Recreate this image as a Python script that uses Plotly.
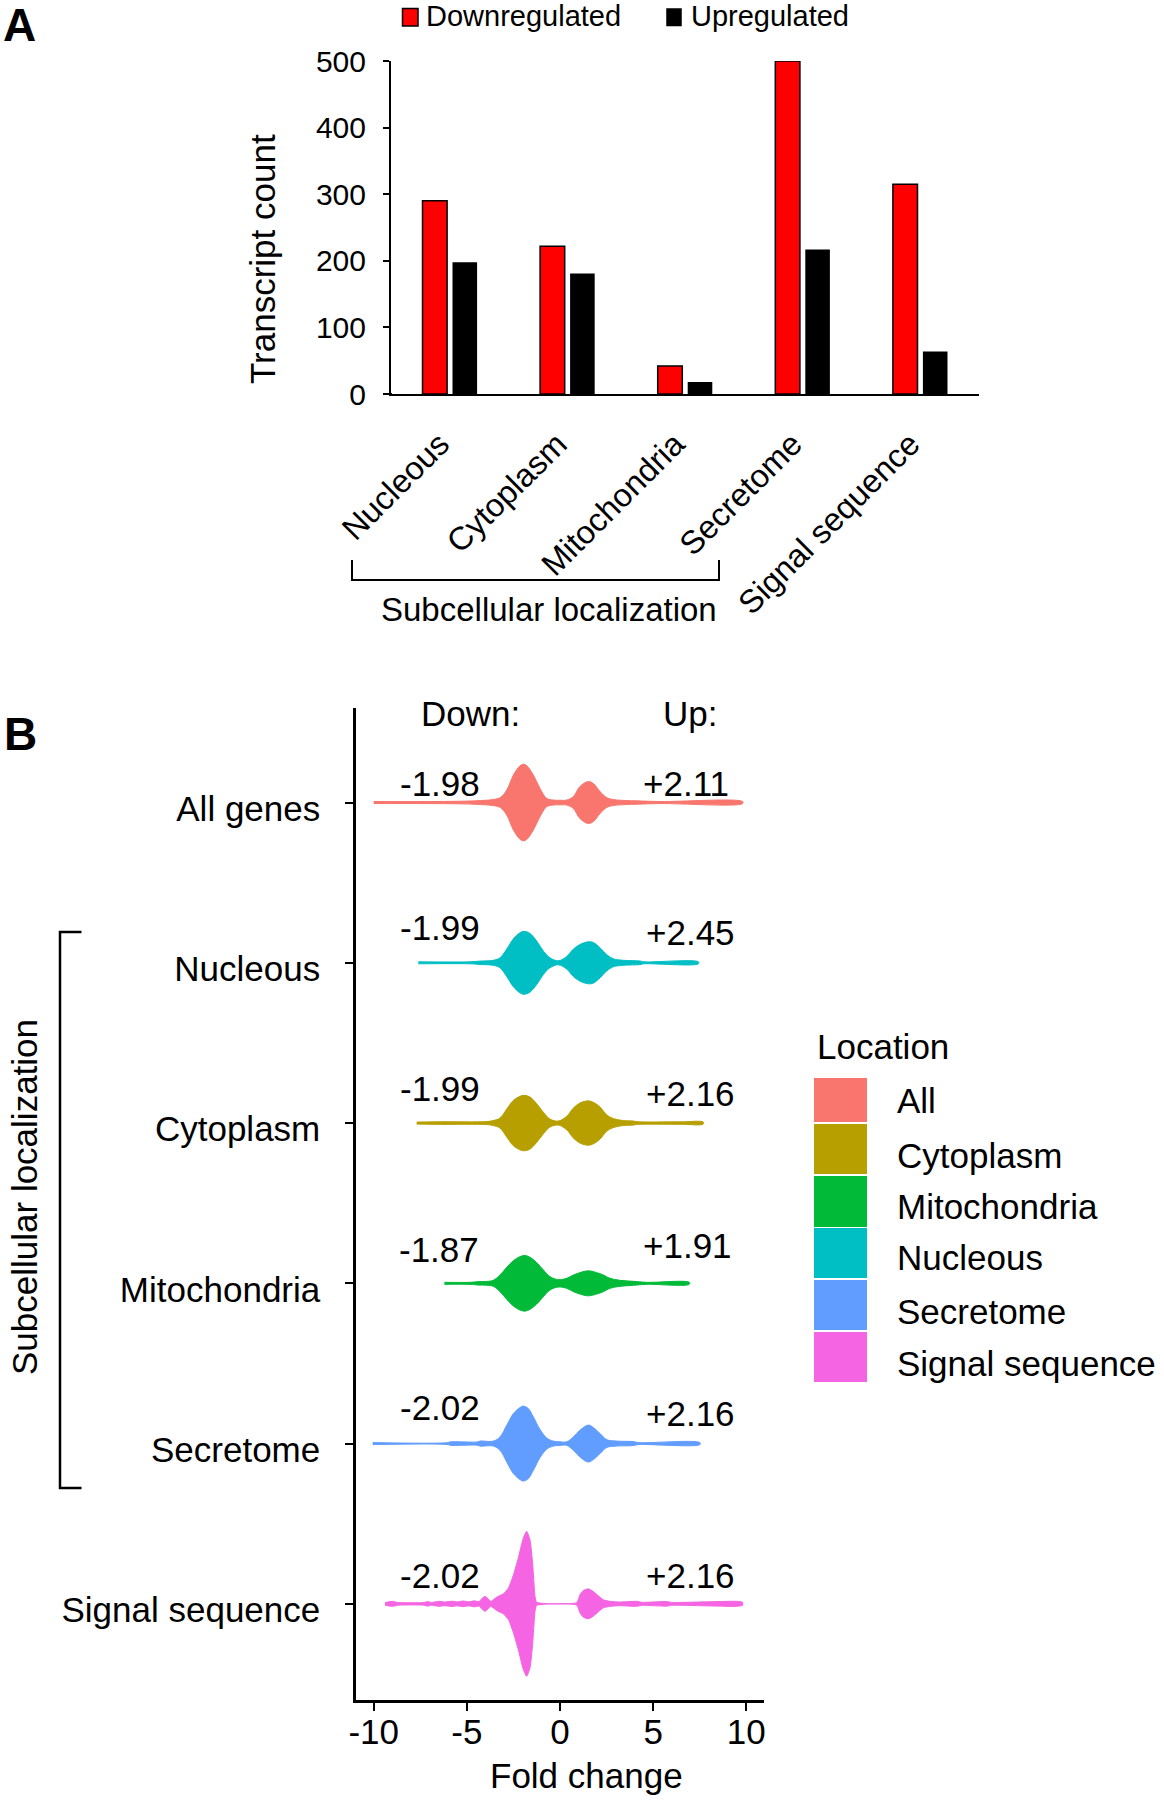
import plotly.graph_objects as go

# ---------------- Panel A data ----------------
CATEGORIES_A = ["Nucleous", "Cytoplasm", "Mitochondria", "Secretome", "Signal sequence"]
DOWN_COUNTS = [290, 222, 42, 500, 315]
UP_COUNTS = [198, 181, 18, 217, 64]
Y_TICKS_A = [0, 100, 200, 300, 400, 500]

# ---------------- Panel B data ----------------
ROW_LABELS_B = ["All genes", "Nucleous", "Cytoplasm", "Mitochondria", "Secretome", "Signal sequence"]
ROW_LOCATION = ["All", "Nucleous", "Cytoplasm", "Mitochondria", "Secretome", "Signal sequence"]
LEGEND_NAMES = ["All", "Cytoplasm", "Mitochondria", "Nucleous", "Secretome", "Signal sequence"]
DOWN_MEDIANS = ["-1.98", "-1.99", "-1.99", "-1.87", "-2.02", "-2.02"]
UP_MEDIANS = ["+2.11", "+2.45", "+2.16", "+1.91", "+2.16", "+2.16"]
X_TICKS_B = [-10, -5, 0, 5, 10]

# violin density profiles (fold change, half-width of density)
ALL_X = [-10.0, -7.2, -5.4, -4.5, -3.6, -3.2, -2.86, -2.5, -2.15, -1.97, -1.79, -1.43, -1.07, -0.72,
         -0.36, 0.0, 0.36, 0.72, 1.07, 1.52, 1.79, 2.15, 2.5, 2.86, 3.58, 4.12, 5.4, 9.8]
ALL_D = [1.0, 1.0, 1.3, 1.8, 3.0, 5.0, 12.5, 27.5, 36.7, 38.3, 37.0, 27.5, 14.0, 4.2,
         2.5, 2.3, 2.5, 6.0, 16.0, 21.0, 19.0, 11.0, 5.0, 3.0, 2.0, 1.7, 1.0, 1.0]

NUC_X = [-7.6, -4.83, -4.3, -3.58, -3.22, -2.86, -2.5, -2.15, -1.93, -1.61, -1.25, -0.89, -0.54,
         -0.09, 0.36, 0.72, 1.07, 1.52, 1.79, 2.15, 2.5, 2.86, 3.4, 4.29, 4.5, 7.43]
NUC_D = [1.0, 1.0, 1.7, 2.5, 5.0, 13.7, 24.0, 30.0, 31.5, 29.3, 21.7, 11.7, 5.0,
         2.0, 6.3, 13.7, 18.3, 21.0, 20.3, 15.0, 8.3, 4.0, 2.5, 1.8, 1.0, 1.0]

CYT_X = [-7.69, -6.4, -3.94, -3.58, -3.22, -2.86, -2.5, -2.15, -1.93, -1.61, -1.25, -0.89, -0.54,
         -0.09, 0.36, 0.72, 1.07, 1.52, 1.79, 2.15, 2.5, 2.86, 3.4, 3.94, 4.2, 6.44, 7.69]
CYT_D = [1.0, 1.3, 1.5, 2.5, 5.0, 14.0, 22.7, 26.7, 27.7, 26.0, 19.3, 10.7, 4.0,
         2.0, 6.7, 15.0, 20.0, 22.2, 20.7, 16.0, 8.3, 4.5, 2.5, 2.0, 1.3, 1.2, 1.0]

MIT_X = [-6.2, -4.83, -4.4, -3.94, -3.58, -3.22, -2.86, -2.5, -2.15, -1.88, -1.61, -1.25, -0.89,
         -0.54, -0.09, 0.36, 0.72, 1.07, 1.52, 1.97, 2.33, 2.68, 3.22, 3.94, 4.65, 6.94]
MIT_D = [1.0, 1.0, 1.7, 1.9, 3.0, 8.3, 16.0, 22.7, 26.7, 27.8, 26.0, 20.7, 13.3,
         6.7, 3.7, 5.0, 8.3, 10.7, 12.5, 10.7, 8.3, 5.0, 3.0, 2.0, 1.0, 1.0]

SEC_X = [-10.05, -6.0, -5.9, -4.4, -4.3, -3.58, -3.22, -2.86, -2.5, -2.15, -1.97, -1.70, -1.43,
         -1.07, -0.72, -0.36, 0.0, 0.36, 0.72, 1.07, 1.52, 1.79, 2.15, 2.5, 3.04, 3.94, 4.2, 7.51]
SEC_D = [1.0, 1.0, 1.7, 1.7, 2.5, 2.5, 6.7, 18.3, 30.0, 36.0, 37.5, 35.0, 26.7,
         14.0, 5.7, 2.5, 1.8, 1.8, 6.7, 13.3, 18.5, 16.0, 10.0, 4.0, 2.5, 2.0, 1.0, 1.0]

SIG_X = [-9.39, -9.0, -8.7, -7.3, -7.1, -6.9, -6.5, -6.2, -5.8, -5.5, -5.2, -4.9, -4.6, -4.35,
         -4.18, -4.03, -3.88, -3.72, -3.4, -3.04, -2.77, -2.5, -2.24, -1.97, -1.79, -1.61, -1.47,
         -1.34, -1.25, 0.9, 1.07, 1.25, 1.52, 1.79, 2.06, 2.33, 2.68, 3.2, 4.12, 4.4, 5.73, 6.0,
         9.48, 9.8]
SIG_D = [1.3, 2.5, 1.3, 1.3, 2.3, 1.3, 2.5, 1.8, 2.6, 2.0, 2.8, 2.0, 3.0, 2.2,
         5.5, 7.5, 5.5, 2.5, 6.7, 10.0, 15.7, 29.0, 45.7, 65.7, 72.5, 64.0, 40.7,
         7.3, 1.5, 1.2, 9.0, 13.3, 15.0, 12.3, 8.0, 4.0, 2.5, 1.8, 2.5, 1.5, 2.3, 1.4,
         2.5, 1.5]

PROFILES = {
    "All": (ALL_X, ALL_D),
    "Nucleous": (NUC_X, NUC_D),
    "Cytoplasm": (CYT_X, CYT_D),
    "Mitochondria": (MIT_X, MIT_D),
    "Secretome": (SEC_X, SEC_D),
    "Signal sequence": (SIG_X, SIG_D),
}

# ---------------- styles ----------------
COLORS = {
    "All": "#F8766D",
    "Cytoplasm": "#B79F00",
    "Mitochondria": "#00BA38",
    "Nucleous": "#00BFC4",
    "Secretome": "#619CFF",
    "Signal sequence": "#F564E3",
}
FONT = "Liberation Sans, Arial, sans-serif"
W, H = 1164, 1800
ROW_PX = 160.26  # pixels per category row in panel B (for density scaling)


def px(x):
    return x / W


def py(y):
    return 1 - y / H


fig = go.Figure()

# ---------- Panel A: grouped bars ----------
fig.add_trace(go.Bar(
    x=CATEGORIES_A, y=DOWN_COUNTS, name="Downregulated",
    marker=dict(color="#FF0000", line=dict(color="black", width=1.5)),
    xaxis="x", yaxis="y", showlegend=False,
))
fig.add_trace(go.Bar(
    x=CATEGORIES_A, y=UP_COUNTS, name="Upregulated",
    marker=dict(color="black", line=dict(color="black", width=0)),
    xaxis="x", yaxis="y", showlegend=False,
))

# ---------- Panel B: violins drawn from density profiles ----------
for i, loc in enumerate(ROW_LOCATION):
    xs, ds = PROFILES[loc]
    hw = [d / ROW_PX for d in ds]
    poly_x = list(xs) + list(xs[::-1])
    poly_y = [i - h for h in hw] + [i + h for h in hw[::-1]]
    smooth = 0.5 if loc == "Signal sequence" else 1.0
    fig.add_trace(go.Scatter(
        x=poly_x, y=poly_y, mode="lines", fill="toself",
        fillcolor=COLORS[loc],
        line=dict(color=COLORS[loc], width=1, shape="spline", smoothing=smooth),
        xaxis="x2", yaxis="y2", showlegend=False, name=loc, hoverinfo="skip",
    ))

annotations = []
shapes = []

# panel letters
annotations.append(dict(text="<b>A</b>", x=px(19), y=py(25), xref="paper", yref="paper",
                        showarrow=False, font=dict(size=46, family=FONT, color="black"),
                        xanchor="center", yanchor="middle"))
annotations.append(dict(text="<b>B</b>", x=px(20), y=py(734), xref="paper", yref="paper",
                        showarrow=False, font=dict(size=46, family=FONT, color="black"),
                        xanchor="center", yanchor="middle"))

# panel A legend (manual)
legA = [("Downregulated", "#FF0000", 402.5, 418, 8.5, 26, 424),
        ("Upregulated", "black", 667, 681, 9, 25.5, 689)]
for name, col, x0, x1, y0, y1, tx in legA:
    shapes.append(dict(type="rect", xref="paper", yref="paper",
                       x0=px(x0), x1=px(x1), y0=py(y1), y1=py(y0),
                       fillcolor=col, line=dict(color="black", width=1.5)))
    annotations.append(dict(text=name, x=px(tx), y=py(16.5), xref="paper", yref="paper",
                            showarrow=False, xanchor="left", yanchor="middle",
                            font=dict(size=29, family=FONT, color="black")))

# panel A y title
annotations.append(dict(text="Transcript count", x=px(262), y=py(259), xref="paper", yref="paper",
                        showarrow=False, textangle=-90, xanchor="center", yanchor="middle",
                        font=dict(size=35, family=FONT, color="black")))

# small left extension of the panel A baseline
shapes.append(dict(type="line", xref="paper", yref="paper",
                   x0=px(384), x1=px(392), y0=py(394), y1=py(394),
                   line=dict(color="black", width=2)))

# panel A bracket + label
shapes.append(dict(type="path", xref="paper", yref="paper",
                   path=f"M {px(352)},{py(560)} L {px(352)},{py(580)} L {px(719)},{py(580)} L {px(719)},{py(560)}",
                   line=dict(color="black", width=2)))
annotations.append(dict(text="Subcellular localization", x=px(549), y=py(609), xref="paper", yref="paper",
                        showarrow=False, xanchor="center", yanchor="middle",
                        font=dict(size=33, family=FONT, color="black")))

# panel B headers
annotations.append(dict(text="Down:", x=px(470), y=py(713.5), xref="paper", yref="paper",
                        showarrow=False, xanchor="center", yanchor="middle",
                        font=dict(size=35, family=FONT, color="black")))
annotations.append(dict(text="Up:", x=px(690), y=py(713.5), xref="paper", yref="paper",
                        showarrow=False, xanchor="center", yanchor="middle",
                        font=dict(size=35, family=FONT, color="black")))

# panel B median labels (offsets in row units)
DOWN_LABEL_POS = [(-6.44, -0.121), (-6.44, -0.218), (-6.44, -0.218), (-6.47, -0.213), (-6.44, -0.223), (-6.44, -0.176)]
UP_LABEL_POS = [(6.77, -0.121), (7.0, -0.187), (7.0, -0.187), (6.84, -0.239), (7.0, -0.187), (6.98, -0.176)]
for i in range(len(ROW_LABELS_B)):
    dx, dy = DOWN_LABEL_POS[i]
    ux, uy = UP_LABEL_POS[i]
    annotations.append(dict(text=DOWN_MEDIANS[i], x=dx, y=i + dy, xref="x2", yref="y2",
                            showarrow=False, xanchor="center", yanchor="middle",
                            font=dict(size=35, family=FONT, color="black")))
    annotations.append(dict(text=UP_MEDIANS[i], x=ux, y=i + uy, xref="x2", yref="y2",
                            showarrow=False, xanchor="center", yanchor="middle",
                            font=dict(size=35, family=FONT, color="black")))

# panel B titles
annotations.append(dict(text="Fold change", x=px(586), y=py(1775), xref="paper", yref="paper",
                        showarrow=False, xanchor="center", yanchor="middle",
                        font=dict(size=35, family=FONT, color="black")))
annotations.append(dict(text="Subcellular localization", x=px(24), y=py(1197), xref="paper", yref="paper",
                        showarrow=False, textangle=-90, xanchor="center", yanchor="middle",
                        font=dict(size=35, family=FONT, color="black")))
shapes.append(dict(type="path", xref="paper", yref="paper",
                   path=f"M {px(81.5)},{py(932)} L {px(60)},{py(932)} L {px(60)},{py(1488)} L {px(81.5)},{py(1488)}",
                   line=dict(color="black", width=2.5)))

# panel B legend (manual)
annotations.append(dict(text="Location", x=px(815), y=py(1046), xref="paper", yref="paper",
                        showarrow=False, xanchor="left", yanchor="middle",
                        font=dict(size=35, family=FONT, color="black")))
LEG_BOX_Y = [(1078, 1122), (1124, 1174), (1176, 1227), (1228, 1278), (1280, 1330), (1332, 1382)]
LEG_TEXT_Y = [1100, 1155, 1206, 1257, 1311, 1363]
for name, (y0, y1), ty in zip(LEGEND_NAMES, LEG_BOX_Y, LEG_TEXT_Y):
    shapes.append(dict(type="rect", xref="paper", yref="paper",
                       x0=px(814), x1=px(867), y0=py(y1), y1=py(y0),
                       fillcolor=COLORS[name], line=dict(width=0)))
    annotations.append(dict(text=name, x=px(895), y=py(ty), xref="paper", yref="paper",
                            showarrow=False, xanchor="left", yanchor="middle",
                            font=dict(size=35, family=FONT, color="black")))

fig.update_layout(
    width=W, height=H, autosize=False,
    margin=dict(l=0, r=0, t=0, b=0, autoexpand=False),
    paper_bgcolor="white", plot_bgcolor="white",
    font=dict(family=FONT, color="black"),
    barmode="group", bargap=0.49, bargroupgap=0.18,
    showlegend=False,
    xaxis=dict(domain=[px(391), px(979)], anchor="y", type="category", automargin=False,
               categoryorder="array", categoryarray=CATEGORIES_A,
               range=[-0.5, 4.5], tickangle=-45, ticks="", ticklabelstandoff=16, ticklabelshift=-10,
               tickfont=dict(size=32.5, family=FONT, color="black"),
               showline=True, linecolor="black", linewidth=2, showgrid=False, zeroline=False),
    yaxis=dict(domain=[py(394), py(61)], anchor="x", range=[0, 500], automargin=False,
               tickvals=Y_TICKS_A, ticks="outside", ticklen=6, tickwidth=2, tickcolor="black",
               ticklabelstandoff=11,
               tickfont=dict(size=30, family=FONT, color="black"),
               showline=True, linecolor="black", linewidth=2, showgrid=False, zeroline=False),
    xaxis2=dict(domain=[px(356), px(764)], anchor="y2", range=[-10.95, 10.95], automargin=False,
                tickvals=X_TICKS_B, ticktext=[str(v) for v in X_TICKS_B],
                ticks="outside", ticklen=8, tickwidth=2, tickcolor="black", ticklabelstandoff=-9,
                tickfont=dict(size=35, family=FONT, color="black"),
                showline=True, linecolor="black", linewidth=2.5, showgrid=False, zeroline=False),
    yaxis2=dict(domain=[py(1700), py(708)], anchor="x2", range=[5.6, -0.59], automargin=False,
                tickvals=list(range(len(ROW_LABELS_B))), ticktext=ROW_LABELS_B,
                ticks="outside", ticklen=8, tickwidth=2, tickcolor="black",
                ticklabelstandoff=18, ticklabelshift=-6,
                tickfont=dict(size=35, family=FONT, color="black"),
                showline=True, linecolor="black", linewidth=2.5, showgrid=False, zeroline=False),
    annotations=annotations,
    shapes=shapes,
)

fig.write_html("out.html", config={"displayModeBar": False},
               post_script="document.body.style.margin='0px';")
